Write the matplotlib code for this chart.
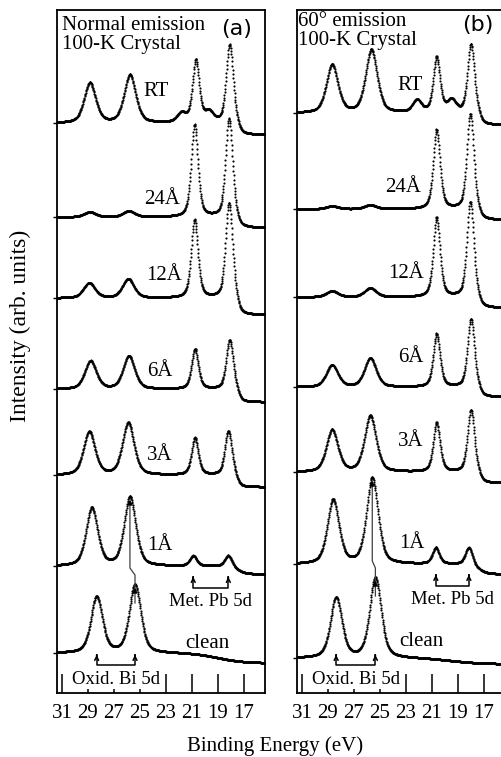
"""
Photoemission spectra of Pb on an oxidised Bi 5d surface (100-K crystal),
normal emission (a) and 60 deg emission (b), stacked by Pb coverage.
"""

import numpy as np
import matplotlib
matplotlib.use("Agg")
import matplotlib.pyplot as plt

plt.rcParams["font.family"] = ["Liberation Serif", "DejaVu Serif"]

W_PX, H_PX = 501, 757

# ---------------------------------------------------------------------------
# Data (intensities in arbitrary units)
# ---------------------------------------------------------------------------
LABELS = ["RT", "24Å", "12Å", "6Å", "3Å", "1Å", "clean"]
TICKS = [31, 29, 27, 25, 23, 21, 19, 17]

# (a) normal emission
A_OFFSET  = [570, 476, 395, 304, 218, 127, 40]
A_BI1_POS = [28.85, 28.85, 28.90, 28.80, 28.90, 28.70, 28.33]
A_BI1_H   = [40, 5, 15, 28, 43, 58, 56]
A_BI2_POS = [25.77, 25.85, 25.90, 25.85, 25.90, 25.77, 25.38]
A_BI2_H   = [48, 6, 19, 33, 52, 69, 68]
A_PB1_POS = [20.70, 20.80, 20.80, 20.77, 20.77, 20.90, 20.90]
A_PB1_H   = [62, 92, 78, 40, 37, 10, 0]
A_PB2_POS = [18.10, 18.15, 18.15, 18.10, 18.20, 18.20, 18.20]
A_PB2_H   = [78, 98, 95, 49, 44, 11, 0]
A_STEP    = [12, 11, 17, 13, 12, 8, 10]
A_STEP_POS = [17.40, 17.45, 17.45, 17.40, 17.50, 17.50, 19.0]
A_STEP_W  = [0.12, 0.12, 0.12, 0.12, 0.12, 0.3, 1.0]
A_RT_EXTRA_POS = [21.8, 19.7]
A_RT_EXTRA_H   = [9, 10]
A_LABEL_X  = [23.77, 23.30, 23.15, 23.46, 23.46, 23.46, 19.85]
A_LABEL_DY = [31, 17, 22, 17, 19, 21, 10]

# (b) 60 deg emission
B_OFFSET  = [580, 484, 396, 306, 221, 129, 35]
B_BI1_POS = [28.68, 28.68, 28.68, 28.68, 28.68, 28.60, 28.37]
B_BI1_H   = [48, 3, 6, 22, 42, 64, 60]
B_BI2_POS = [25.66, 25.74, 25.74, 25.74, 25.74, 25.59, 25.35]
B_BI2_H   = [63, 4, 9, 29, 56, 86, 80]
B_PB1_POS = [20.64, 20.64, 20.64, 20.64, 20.64, 20.70, 20.70]
B_PB1_H   = [55, 79, 79, 53, 49, 16, 0]
B_PB2_POS = [18.00, 18.05, 18.05, 18.00, 18.00, 18.16, 18.16]
B_PB2_H   = [68, 95, 95, 68, 62, 17, 0]
B_STEP    = [12, 11, 11, 10, 11, 10, 6]
B_STEP_POS = [17.30, 17.35, 17.35, 17.30, 17.30, 17.45, 19.5]
B_STEP_W  = [0.12, 0.12, 0.12, 0.12, 0.12, 0.3, 1.2]
B_RT_EXTRA_POS = [22.15, 19.5]
B_RT_EXTRA_H   = [12, 12]
B_LABEL_X  = [22.65, 23.19, 23.03, 22.65, 22.65, 22.57, 21.80]
B_LABEL_DY = [27, 21, 23, 29, 30, 21, 17]

BI_W, PB_W, EXTRA_W = 1.05, 0.62, 0.80
E = np.arange(15.2, 31.5, 0.025)   # measurement grid


def pv(e, c, h, w, eta=0.45):
    x = (e - c) / (w / 2)
    return h * (eta / (1 + x ** 2) + (1 - eta) * np.exp(-np.log(2) * x ** 2))


def spectrum(i, p):
    y = np.full_like(E, p["off"][i], dtype=float)
    y += pv(E, p["bi1"][i], p["bi1h"][i], BI_W)
    y += pv(E, p["bi2"][i], p["bi2h"][i], BI_W)
    y += pv(E, p["pb1"][i], p["pb1h"][i], PB_W)
    y += pv(E, p["pb2"][i], p["pb2h"][i], PB_W)
    if i == 0:
        for c, h in zip(p["xpos"], p["xh"]):
            y += pv(E, c, h, EXTRA_W)
    y -= p["step"][i] / (1 + np.exp((E - p["spos"][i]) / p["sw"][i]))
    return y


PANELS = [
    dict(off=A_OFFSET, bi1=A_BI1_POS, bi1h=A_BI1_H, bi2=A_BI2_POS, bi2h=A_BI2_H,
         pb1=A_PB1_POS, pb1h=A_PB1_H, pb2=A_PB2_POS, pb2h=A_PB2_H,
         step=A_STEP, spos=A_STEP_POS, sw=A_STEP_W,
         xpos=A_RT_EXTRA_POS, xh=A_RT_EXTRA_H, lx=A_LABEL_X, ldy=A_LABEL_DY,
         left=57),
    dict(off=B_OFFSET, bi1=B_BI1_POS, bi1h=B_BI1_H, bi2=B_BI2_POS, bi2h=B_BI2_H,
         pb1=B_PB1_POS, pb1h=B_PB1_H, pb2=B_PB2_POS, pb2h=B_PB2_H,
         step=B_STEP, spos=B_STEP_POS, sw=B_STEP_W,
         xpos=B_RT_EXTRA_POS, xh=B_RT_EXTRA_H, lx=B_LABEL_X, ldy=B_LABEL_DY,
         left=297),
]


def px(x, y):
    return x / W_PX, 1 - y / H_PX


fig = plt.figure(figsize=(W_PX / 100, H_PX / 100), dpi=100)

for p in PANELS:
    ax = fig.add_axes([p["left"] / W_PX, (H_PX - 693) / H_PX,
                       208 / W_PX, 683 / H_PX])
    ax.set_xlim(31.38, 15.38)
    ax.set_ylim(0, 683)

    for i, lab in enumerate(LABELS):
        ax.plot(E, spectrum(i, p), ls="none", marker="o", ms=1.55, mew=0,
                color="black", zorder=2)
        ax.text(p["lx"][i], p["off"][i] + p["ldy"][i], lab, fontsize=15,
                ha="center", va="center")

    # shift of the Bi 5d peak: clean -> 1 A
    xc, yc = p["bi2"][6], p["off"][6] + p["bi2h"][6]
    x1, y1 = p["bi2"][5], p["off"][5] + p["bi2h"][5]
    ax.plot([xc, xc, x1, x1], [yc - 18, yc + 10, yc + 17, y1 - 4],
            color="0.25", lw=0.9, zorder=3)
    for (xa, ya) in [(xc, yc), (x1, y1)]:
        ax.annotate("", xy=(xa, ya), xytext=(xa, ya - 10),
                    arrowprops=dict(arrowstyle="-|>", lw=0.9, color="black",
                                    mutation_scale=7), zorder=3)

    # metallic Pb 5d bracket
    off1 = p["off"][5]
    xa, xb = p["pb1"][5], p["pb2"][5]
    tip, bot = off1 - 8, off1 - 22
    ax.plot([xa, xa, xb, xb], [tip - 3, bot, bot, tip - 3], color="black", lw=1.1)
    for xx in (xa, xb):
        ax.annotate("", xy=(xx, tip), xytext=(xx, tip - 6),
                    arrowprops=dict(arrowstyle="->", lw=1.1, color="black",
                                    mutation_scale=7))
    ax.text((xa + xb) / 2, off1 - 36, "Met. Pb 5d", fontsize=13.5,
            ha="center", va="center")

    # oxidised Bi 5d bracket
    xa, xb = p["bi1"][6], p["bi2"][6]
    tip, bot = 41, 28
    ax.plot([xa, xa, xb, xb], [tip - 3, bot, bot, tip - 3], color="black", lw=1.1)
    for xx in (xa, xb):
        ax.annotate("", xy=(xx, tip), xytext=(xx, tip - 6),
                    arrowprops=dict(arrowstyle="->", lw=1.1, color="black",
                                    mutation_scale=7))
    ax.text((xa + xb) / 2, 13, "Oxid. Bi 5d", fontsize=13.5, ha="center",
            va="center", zorder=4,
            bbox=dict(facecolor="white", edgecolor="none", pad=0.5))

    ax.set_xticks(TICKS)
    ax.set_xticklabels([str(t) for t in TICKS])
    ax.tick_params(axis="x", direction="in", length=13.5, width=1.1,
                   labelsize=15, pad=8)
    ax.set_yticks(p["off"])
    ax.tick_params(axis="y", direction="out", length=3, width=1.0,
                   labelleft=False)
    for s in ax.spines.values():
        s.set_linewidth(1.3)

fig.text(*px(62, 16), "Normal emission\n100-K Crystal", fontsize=15,
         va="top", linespacing=0.98)
fig.text(*px(237, 29), "(a)", family="DejaVu Sans", fontsize=16,
         ha="center", va="center")
fig.text(*px(298, 12), "60° emission\n100-K Crystal", fontsize=15,
         va="top", linespacing=0.98)
fig.text(*px(478, 25), "(b)", family="DejaVu Sans", fontsize=16,
         ha="center", va="center")

fig.text(*px(275, 746), "Binding Energy (eV)", fontsize=15,
         ha="center", va="center")
fig.text(*px(20, 326), "Intensity (arb. units)", fontsize=17, rotation=90,
         ha="center", va="center")

fig.savefig("out.png", dpi=100)
plt.close(fig)
